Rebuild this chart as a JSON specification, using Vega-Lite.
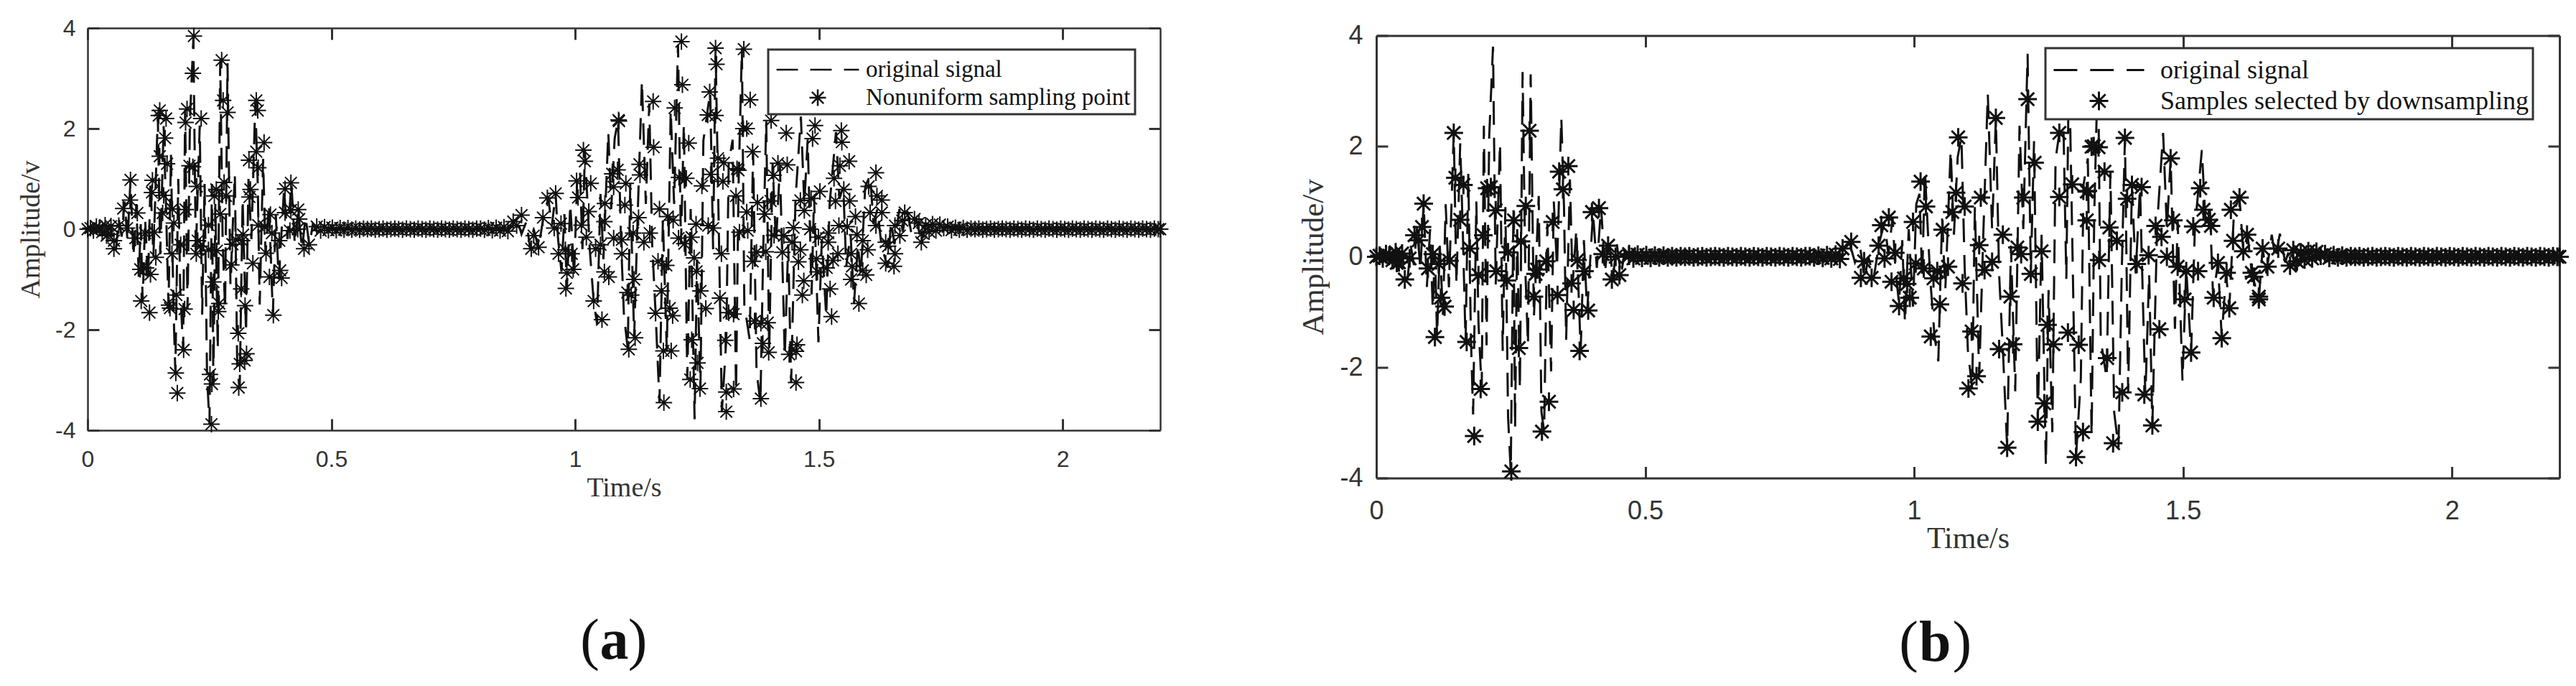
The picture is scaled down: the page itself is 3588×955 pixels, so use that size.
{
"$schema":"https://vega.github.io/schema/vega-lite/v6.json",
"description":"Original signal with nonuniform samples (a) and downsampled samples (b).",
"background":"white",
"padding":{"left":24,"top":23,"right":0,"bottom":0},
"spacing":176,
"config":{"view":{"stroke":null},"legend":{"strokeWidth":3},"axis":{"grid":false,"domainColor":"#333","tickColor":"#333","labelColor":"#333","titleColor":"#333","labelFont":"Liberation Sans","titleFont":"Liberation Serif","titleFontWeight":"normal"}},
"datasets":{
"signal":[{"t":0,"v":0},{"t":0.01,"v":0.05},{"t":0.02,"v":-0.06},{"t":0.03,"v":0.08},{"t":0.04,"v":-0.1},{"t":0.047,"v":0.1},{"t":0.052,"v":-0.2},{"t":0.058,"v":-0.42},{"t":0.064,"v":0.2},{"t":0.07,"v":-0.15},{"t":0.076,"v":0.55},{"t":0.082,"v":-0.25},{"t":0.088,"v":0.98},{"t":0.094,"v":-0.55},{"t":0.1,"v":0.5},{"t":0.105,"v":-0.95},{"t":0.109,"v":0.1},{"t":0.113,"v":-1.45},{"t":0.118,"v":0.2},{"t":0.124,"v":-1.05},{"t":0.129,"v":0.95},{"t":0.135,"v":-0.55},{"t":0.14,"v":1.0},{"t":0.144,"v":2.25},{"t":0.149,"v":-0.5},{"t":0.156,"v":2.05},{"t":0.161,"v":0.4},{"t":0.166,"v":-1.55},{"t":0.171,"v":1.5},{"t":0.176,"v":-1.5},{"t":0.18,"v":-2.85},{"t":0.186,"v":1.0},{"t":0.19,"v":-1.2},{"t":0.196,"v":-2.4},{"t":0.2,"v":2.37},{"t":0.205,"v":-1.6},{"t":0.21,"v":2.2},{"t":0.217,"v":3.8},{"t":0.222,"v":-0.5},{"t":0.23,"v":2.06},{"t":0.235,"v":-1.7},{"t":0.24,"v":0.9},{"t":0.245,"v":-2.9},{"t":0.25,"v":-3.88},{"t":0.255,"v":0.9},{"t":0.258,"v":-3.1},{"t":0.262,"v":0.5},{"t":0.267,"v":-2.4},{"t":0.272,"v":3.34},{"t":0.277,"v":-0.2},{"t":0.282,"v":-1.6},{"t":0.287,"v":3.3},{"t":0.293,"v":-1.1},{"t":0.302,"v":1.1},{"t":0.307,"v":-2.8},{"t":0.312,"v":-3.15},{"t":0.318,"v":0.6},{"t":0.325,"v":-2.07},{"t":0.33,"v":1.0},{"t":0.336,"v":-0.2},{"t":0.344,"v":2.52},{"t":0.349,"v":0.9},{"t":0.353,"v":-1.5},{"t":0.36,"v":1.4},{"t":0.365,"v":-0.5},{"t":0.372,"v":0.5},{"t":0.38,"v":-1.7},{"t":0.386,"v":0.3},{"t":0.392,"v":-1.0},{"t":0.403,"v":0.8},{"t":0.41,"v":-0.2},{"t":0.418,"v":0.92},{"t":0.425,"v":-0.3},{"t":0.432,"v":0.35},{"t":0.44,"v":-0.4},{"t":0.447,"v":0.25},{"t":0.455,"v":-0.33},{"t":0.462,"v":0.1},{"t":0.47,"v":-0.05},{"t":0.49,"v":0.02},{"t":0.86,"v":0},{"t":0.87,"v":0.05},{"t":0.88,"v":0.25},{"t":0.89,"v":-0.1},{"t":0.9,"v":0.15},{"t":0.908,"v":-0.4},{"t":0.915,"v":0},{"t":0.925,"v":-0.38},{"t":0.935,"v":0.25},{"t":0.945,"v":0.62},{"t":0.952,"v":0.05},{"t":0.96,"v":0.7},{"t":0.965,"v":-0.2},{"t":0.972,"v":-0.85},{"t":0.978,"v":0.3},{"t":0.983,"v":-1.2},{"t":0.99,"v":0.5},{"t":0.998,"v":-0.9},{"t":1.004,"v":0.95},{"t":1.01,"v":1.14},{"t":1.015,"v":-0.4},{"t":1.02,"v":1.57},{"t":1.03,"v":-0.4},{"t":1.038,"v":-1.44},{"t":1.045,"v":-1.89},{"t":1.052,"v":0.7},{"t":1.058,"v":-0.6},{"t":1.068,"v":1.93},{"t":1.074,"v":0.4},{"t":1.081,"v":1.8},{"t":1.088,"v":2.17},{"t":1.094,"v":-0.2},{"t":1.1,"v":-1.69},{"t":1.108,"v":-2.39},{"t":1.113,"v":0.9},{"t":1.121,"v":-2.16},{"t":1.128,"v":0.2},{"t":1.137,"v":2.95},{"t":1.145,"v":0.5},{"t":1.152,"v":2.5},{"t":1.158,"v":-0.3},{"t":1.165,"v":-1.67},{"t":1.173,"v":-3.45},{"t":1.18,"v":0.2},{"t":1.188,"v":-2.43},{"t":1.196,"v":2.37},{"t":1.203,"v":0.5},{"t":1.211,"v":3.67},{"t":1.217,"v":-0.3},{"t":1.223,"v":2.09},{"t":1.23,"v":-2.98},{"t":1.237,"v":0.4},{"t":1.245,"v":-3.78},{"t":1.25,"v":-0.6},{"t":1.257,"v":-3.17},{"t":1.263,"v":1.76},{"t":1.27,"v":2.24},{"t":1.277,"v":2.73},{"t":1.283,"v":-0.4},{"t":1.288,"v":3.6},{"t":1.295,"v":-0.2},{"t":1.301,"v":-3.62},{"t":1.31,"v":-2.2},{"t":1.315,"v":1.3},{"t":1.323,"v":1.78},{"t":1.33,"v":-3.24},{"t":1.335,"v":0.8},{"t":1.342,"v":3.6},{"t":1.347,"v":-1.5},{"t":1.358,"v":-2.2},{"t":1.365,"v":1.54},{"t":1.372,"v":-2.81},{"t":1.38,"v":-3.45},{"t":1.386,"v":-0.3},{"t":1.392,"v":2.15},{"t":1.398,"v":-2.45},{"t":1.405,"v":1.3},{"t":1.412,"v":-0.3},{"t":1.42,"v":1.26},{"t":1.43,"v":-2.53},{"t":1.437,"v":-0.3},{"t":1.443,"v":-3.05},{"t":1.452,"v":0.6},{"t":1.463,"v":2.24},{"t":1.47,"v":0.5},{"t":1.477,"v":1.78},{"t":1.485,"v":-1.3},{"t":1.49,"v":0.66},{"t":1.499,"v":-2.25},{"t":1.506,"v":-0.2},{"t":1.515,"v":-1.74},{"t":1.522,"v":0.5},{"t":1.535,"v":1.93},{"t":1.542,"v":0.6},{"t":1.55,"v":0.85},{"t":1.556,"v":-0.74},{"t":1.565,"v":-0.1},{"t":1.572,"v":-1.47},{"t":1.58,"v":-0.3},{"t":1.586,"v":-0.93},{"t":1.595,"v":0.85},{"t":1.605,"v":1.07},{"t":1.612,"v":0.1},{"t":1.62,"v":0.4},{"t":1.628,"v":-0.3},{"t":1.641,"v":-0.77},{"t":1.648,"v":0.15},{"t":1.655,"v":-0.3},{"t":1.665,"v":0.4},{"t":1.672,"v":-0.05},{"t":1.68,"v":0.42},{"t":1.69,"v":-0.1},{"t":1.7,"v":0.2},{"t":1.71,"v":-0.26},{"t":1.72,"v":0.1},{"t":1.74,"v":-0.03},{"t":1.76,"v":0.05},{"t":2.2,"v":0}],
"quiet":[{"t":0,"v":0},{"t":0.006,"v":0.02},{"t":0.012,"v":-0.03},{"t":0.018,"v":0.05},{"t":0.024,"v":0.02},{"t":0.03,"v":-0.06},{"t":0.036,"v":0.08},{"t":0.042,"v":-0.1},{"t":0.048,"v":0.06},{"t":0.47,"v":0.05},{"t":0.478,"v":-0.03},{"t":0.486,"v":0.04},{"t":0.494,"v":-0.02},{"t":0.502,"v":0.03},{"t":0.51,"v":-0.02},{"t":0.518,"v":0.02},{"t":0.526,"v":-0.01},{"t":0.534,"v":0.02},{"t":0.542,"v":-0.01},{"t":0.55,"v":0.01},{"t":0.558,"v":-0.01},{"t":0.566,"v":0.01},{"t":0.574,"v":0},{"t":0.582,"v":0.01},{"t":0.59,"v":-0.01},{"t":0.598,"v":0},{"t":0.606,"v":0.01},{"t":0.614,"v":-0.01},{"t":0.622,"v":0},{"t":0.63,"v":0.01},{"t":0.638,"v":0},{"t":0.646,"v":-0.01},{"t":0.654,"v":0.01},{"t":0.662,"v":0},{"t":0.67,"v":-0.01},{"t":0.678,"v":0.01},{"t":0.686,"v":0},{"t":0.694,"v":-0.01},{"t":0.702,"v":0.01},{"t":0.71,"v":0},{"t":0.718,"v":-0.01},{"t":0.726,"v":0.01},{"t":0.734,"v":0},{"t":0.742,"v":-0.01},{"t":0.75,"v":0.01},{"t":0.758,"v":0},{"t":0.766,"v":-0.01},{"t":0.774,"v":0.01},{"t":0.782,"v":0},{"t":0.79,"v":-0.01},{"t":0.798,"v":0.01},{"t":0.806,"v":0.01},{"t":0.814,"v":-0.01},{"t":0.822,"v":0.02},{"t":0.83,"v":-0.02},{"t":0.838,"v":0.03},{"t":0.846,"v":-0.03},{"t":0.854,"v":0.04},{"t":0.862,"v":-0.04},{"t":1.705,"v":0.12},{"t":1.712,"v":-0.08},{"t":1.719,"v":0.08},{"t":1.726,"v":-0.05},{"t":1.733,"v":0.1},{"t":1.74,"v":-0.03},{"t":1.748,"v":0.09},{"t":1.756,"v":0.02},{"t":1.764,"v":0.05},{"t":1.772,"v":-0.02},{"t":1.78,"v":0.03},{"t":1.788,"v":-0.01},{"t":1.796,"v":0.02},{"t":1.804,"v":-0.01},{"t":1.812,"v":0.01},{"t":1.82,"v":0},{"t":1.828,"v":0.01},{"t":1.836,"v":-0.01},{"t":1.844,"v":0},{"t":1.852,"v":0.01},{"t":1.86,"v":-0.01},{"t":1.868,"v":0},{"t":1.876,"v":0.01},{"t":1.884,"v":0},{"t":1.892,"v":-0.01},{"t":1.9,"v":0.01},{"t":1.908,"v":0},{"t":1.916,"v":-0.01},{"t":1.924,"v":0.01},{"t":1.932,"v":0},{"t":1.94,"v":-0.01},{"t":1.948,"v":0.01},{"t":1.956,"v":0},{"t":1.964,"v":-0.01},{"t":1.972,"v":0.01},{"t":1.98,"v":0},{"t":1.988,"v":-0.01},{"t":1.996,"v":0.01},{"t":2.004,"v":0},{"t":2.012,"v":-0.01},{"t":2.02,"v":0.01},{"t":2.028,"v":0},{"t":2.036,"v":-0.01},{"t":2.044,"v":0.01},{"t":2.052,"v":0},{"t":2.06,"v":-0.01},{"t":2.068,"v":0.01},{"t":2.076,"v":0},{"t":2.084,"v":-0.01},{"t":2.092,"v":0.01},{"t":2.1,"v":0},{"t":2.108,"v":-0.01},{"t":2.116,"v":0.01},{"t":2.124,"v":0},{"t":2.132,"v":-0.01},{"t":2.14,"v":0.01},{"t":2.148,"v":0},{"t":2.156,"v":-0.01},{"t":2.164,"v":0.01},{"t":2.172,"v":0},{"t":2.18,"v":-0.01},{"t":2.188,"v":0.01},{"t":2.196,"v":0},{"t":2.2,"v":0}],
"nonuniform":[{"t":0.218,"v":3.84},{"t":0.216,"v":3.1},{"t":0.275,"v":3.36},{"t":0.278,"v":2.56},{"t":0.287,"v":2.32},{"t":0.346,"v":2.56},{"t":0.349,"v":2.36},{"t":0.148,"v":2.36},{"t":0.146,"v":2.26},{"t":0.161,"v":2.2},{"t":0.204,"v":2.39},{"t":0.201,"v":2.12},{"t":0.233,"v":2.2},{"t":0.159,"v":1.81},{"t":0.362,"v":1.72},{"t":0.346,"v":1.54},{"t":0.148,"v":1.45},{"t":0.163,"v":1.3},{"t":0.331,"v":1.37},{"t":0.35,"v":1.22},{"t":0.209,"v":1.26},{"t":0.216,"v":1.24},{"t":0.088,"v":0.98},{"t":0.133,"v":0.97},{"t":0.132,"v":0.73},{"t":0.224,"v":0.85},{"t":0.28,"v":0.93},{"t":0.264,"v":0.79},{"t":0.26,"v":0.66},{"t":0.284,"v":0.66},{"t":0.334,"v":0.79},{"t":0.332,"v":0.64},{"t":0.417,"v":0.92},{"t":0.405,"v":0.8},{"t":0.156,"v":0.67},{"t":0.087,"v":0.58},{"t":0.073,"v":0.41},{"t":0.102,"v":0.32},{"t":0.201,"v":0.39},{"t":0.174,"v":0.4},{"t":0.154,"v":0.32},{"t":0.272,"v":0.3},{"t":0.375,"v":0.29},{"t":0.405,"v":0.33},{"t":0.432,"v":0.39},{"t":0.417,"v":0.38},{"t":0.434,"v":0.2},{"t":0.248,"v":0.08},{"t":0.177,"v":0.12},{"t":0.35,"v":0.08},{"t":0.363,"v":0.05},{"t":0.319,"v":-0.11},{"t":0.304,"v":-0.21},{"t":0.297,"v":-0.3},{"t":0.317,"v":-0.23},{"t":0.378,"v":-0.08},{"t":0.393,"v":-0.23},{"t":0.415,"v":-0.03},{"t":0.431,"v":0},{"t":0.137,"v":-0.06},{"t":0.118,"v":-0.08},{"t":0.098,"v":-0.18},{"t":0.081,"v":0.02},{"t":0.064,"v":0.07},{"t":0.054,"v":-0.23},{"t":0.054,"v":-0.39},{"t":0.039,"v":-0.13},{"t":0.191,"v":-0.31},{"t":0.173,"v":-0.49},{"t":0.226,"v":-0.23},{"t":0.231,"v":-0.34},{"t":0.223,"v":-0.49},{"t":0.248,"v":-0.41},{"t":0.265,"v":-0.43},{"t":0.14,"v":-0.56},{"t":0.366,"v":-0.48},{"t":0.444,"v":-0.39},{"t":0.454,"v":-0.31},{"t":0.295,"v":-0.71},{"t":0.339,"v":-0.68},{"t":0.108,"v":-0.8},{"t":0.12,"v":-0.77},{"t":0.129,"v":-0.9},{"t":0.395,"v":-0.82},{"t":0.373,"v":-0.95},{"t":0.398,"v":-0.97},{"t":0.258,"v":-1.05},{"t":0.315,"v":-1.19},{"t":0.182,"v":-1.31},{"t":0.167,"v":-1.51},{"t":0.169,"v":-1.57},{"t":0.199,"v":-1.59},{"t":0.11,"v":-1.43},{"t":0.127,"v":-1.66},{"t":0.27,"v":-1.48},{"t":0.268,"v":-1.64},{"t":0.323,"v":-1.52},{"t":0.381,"v":-1.71},{"t":0.309,"v":-2.07},{"t":0.197,"v":-2.4},{"t":0.326,"v":-2.48},{"t":0.322,"v":-2.61},{"t":0.312,"v":-2.68},{"t":0.181,"v":-2.86},{"t":0.251,"v":-2.89},{"t":0.255,"v":-3.08},{"t":0.31,"v":-3.15},{"t":0.184,"v":-3.26},{"t":0.254,"v":-3.88},{"t":1.218,"v":3.73},{"t":1.288,"v":3.6},{"t":1.29,"v":3.28},{"t":1.22,"v":2.87},{"t":1.16,"v":2.54},{"t":1.204,"v":2.41},{"t":1.276,"v":2.73},{"t":1.272,"v":2.27},{"t":1.288,"v":2.26},{"t":1.089,"v":2.17},{"t":1.09,"v":2.15},{"t":1.233,"v":1.71},{"t":1.161,"v":1.63},{"t":1.017,"v":1.57},{"t":1.02,"v":1.35},{"t":1.132,"v":1.29},{"t":1.293,"v":1.41},{"t":1.305,"v":1.32},{"t":1.335,"v":1.17},{"t":1.076,"v":1.1},{"t":1.087,"v":1.18},{"t":1.133,"v":1.08},{"t":1.213,"v":1.03},{"t":1.228,"v":1.01},{"t":1.278,"v":1.09},{"t":1.303,"v":0.95},{"t":1.003,"v":0.96},{"t":1.032,"v":0.91},{"t":1.104,"v":0.91},{"t":1.079,"v":0.84},{"t":1.26,"v":0.86},{"t":0.96,"v":0.71},{"t":0.943,"v":0.62},{"t":1.006,"v":0.63},{"t":1.061,"v":0.51},{"t":1.102,"v":0.48},{"t":1.33,"v":0.66},{"t":1.173,"v":0.4},{"t":1.028,"v":0.35},{"t":0.934,"v":0.23},{"t":0.971,"v":0.11},{"t":1.013,"v":0.08},{"t":1.06,"v":0.15},{"t":1.13,"v":0.23},{"t":1.19,"v":0.25},{"t":1.201,"v":0.18},{"t":1.248,"v":0.1},{"t":1.273,"v":0.07},{"t":1.283,"v":0.02},{"t":0.957,"v":0.02},{"t":0.89,"v":0.28},{"t":0.873,"v":0.15},{"t":0.88,"v":0.07},{"t":1.023,"v":-0.16},{"t":1.042,"v":-0.39},{"t":1.079,"v":-0.18},{"t":1.096,"v":-0.21},{"t":1.119,"v":-0.08},{"t":1.153,"v":-0.08},{"t":1.141,"v":-0.26},{"t":1.212,"v":-0.18},{"t":1.224,"v":-0.29},{"t":1.239,"v":-0.16},{"t":1.052,"v":-0.31},{"t":0.915,"v":-0.13},{"t":0.91,"v":-0.39},{"t":0.925,"v":-0.36},{"t":0.966,"v":-0.49},{"t":0.98,"v":-0.41},{"t":0.993,"v":-0.49},{"t":1.096,"v":-0.49},{"t":1.17,"v":-0.64},{"t":1.187,"v":-0.72},{"t":1.244,"v":-0.57},{"t":1.249,"v":-0.84},{"t":1.3,"v":-0.49},{"t":0.983,"v":-0.87},{"t":0.996,"v":-0.8},{"t":1.06,"v":-0.85},{"t":1.069,"v":-0.95},{"t":1.121,"v":-1},{"t":0.981,"v":-1.18},{"t":1.107,"v":-1.26},{"t":1.115,"v":-1.31},{"t":1.177,"v":-1.23},{"t":1.257,"v":-1.23},{"t":1.038,"v":-1.43},{"t":1.297,"v":-1.37},{"t":1.268,"v":-1.58},{"t":1.165,"v":-1.67},{"t":1.194,"v":-1.57},{"t":1.2,"v":-1.72},{"t":1.315,"v":-1.66},{"t":1.325,"v":-1.69},{"t":1.055,"v":-1.8},{"t":1.123,"v":-2.16},{"t":1.11,"v":-2.39},{"t":1.239,"v":-2.2},{"t":1.308,"v":-2.21},{"t":1.181,"v":-2.42},{"t":1.197,"v":-2.42},{"t":1.251,"v":-2.66},{"t":1.236,"v":-2.99},{"t":1.256,"v":-3.17},{"t":1.31,"v":-3.24},{"t":1.325,"v":-3.18},{"t":1.182,"v":-3.45},{"t":1.31,"v":-3.63},{"t":1.346,"v":3.58},{"t":1.359,"v":2.57},{"t":1.345,"v":2},{"t":1.352,"v":2},{"t":1.402,"v":2.16},{"t":1.433,"v":1.91},{"t":1.364,"v":1.54},{"t":1.332,"v":1.2},{"t":1.416,"v":1.31},{"t":1.435,"v":1.28},{"t":1.407,"v":1.07},{"t":1.492,"v":2.06},{"t":1.487,"v":1.8},{"t":1.546,"v":1.96},{"t":1.547,"v":1.73},{"t":1.562,"v":1.35},{"t":1.543,"v":1.26},{"t":1.531,"v":1.01},{"t":1.617,"v":1.12},{"t":1.602,"v":0.85},{"t":1.551,"v":0.79},{"t":1.502,"v":0.75},{"t":1.619,"v":0.66},{"t":1.629,"v":0.58},{"t":1.374,"v":0.53},{"t":1.401,"v":0.56},{"t":1.462,"v":0.57},{"t":1.484,"v":0.61},{"t":1.534,"v":0.56},{"t":1.563,"v":0.56},{"t":1.352,"v":0.34},{"t":1.389,"v":0.3},{"t":1.47,"v":0.37},{"t":1.575,"v":0.25},{"t":1.605,"v":0.33},{"t":1.629,"v":0.33},{"t":1.676,"v":0.33},{"t":1.448,"v":0.03},{"t":1.408,"v":-0.12},{"t":1.428,"v":-0.13},{"t":1.337,"v":-0.06},{"t":1.354,"v":-0.03},{"t":1.482,"v":0},{"t":1.519,"v":-0.08},{"t":1.541,"v":0.07},{"t":1.558,"v":0.05},{"t":1.499,"v":-0.16},{"t":1.519,"v":-0.26},{"t":1.578,"v":-0.11},{"t":1.617,"v":0.07},{"t":1.656,"v":0.07},{"t":1.671,"v":0.17},{"t":1.696,"v":0.2},{"t":1.666,"v":-0.13},{"t":1.637,"v":-0.26},{"t":1.71,"v":-0.26},{"t":1.59,"v":-0.23},{"t":1.6,"v":-0.41},{"t":1.372,"v":-0.46},{"t":1.391,"v":-0.45},{"t":1.425,"v":-0.46},{"t":1.445,"v":-0.26},{"t":1.462,"v":-0.41},{"t":1.364,"v":-0.64},{"t":1.458,"v":-0.65},{"t":1.495,"v":-0.59},{"t":1.529,"v":-0.62},{"t":1.539,"v":-0.49},{"t":1.566,"v":-0.49},{"t":1.642,"v":-0.34},{"t":1.656,"v":-0.49},{"t":1.568,"v":-0.74},{"t":1.516,"v":-0.77},{"t":1.497,"v":-0.85},{"t":1.637,"v":-0.68},{"t":1.654,"v":-0.74},{"t":1.59,"v":-0.82},{"t":1.597,"v":-0.91},{"t":1.566,"v":-1},{"t":1.469,"v":-1.03},{"t":1.466,"v":-1.31},{"t":1.523,"v":-1.19},{"t":1.582,"v":-1.48},{"t":1.526,"v":-1.74},{"t":1.368,"v":-1.83},{"t":1.381,"v":-1.87},{"t":1.395,"v":-1.86},{"t":1.385,"v":-2.27},{"t":1.397,"v":-2.45},{"t":1.455,"v":-2.3},{"t":1.439,"v":-2.49},{"t":1.453,"v":-2.43},{"t":1.453,"v":-3.05},{"t":1.381,"v":-3.37}],
"downsampled":[{"t":0.144,"v":2.24},{"t":0.285,"v":2.28},{"t":0.147,"v":1.43},{"t":0.162,"v":1.3},{"t":0.206,"v":1.24},{"t":0.213,"v":1.26},{"t":0.34,"v":1.54},{"t":0.357,"v":1.64},{"t":0.347,"v":1.22},{"t":0.088,"v":0.96},{"t":0.278,"v":0.92},{"t":0.222,"v":0.84},{"t":0.256,"v":0.66},{"t":0.328,"v":0.63},{"t":0.401,"v":0.81},{"t":0.414,"v":0.88},{"t":0.156,"v":0.67},{"t":0.085,"v":0.54},{"t":0.071,"v":0.39},{"t":0.079,"v":0.3},{"t":0.199,"v":0.39},{"t":0.269,"v":0.28},{"t":0.431,"v":0.2},{"t":0.245,"v":0.08},{"t":0.174,"v":0.15},{"t":0.105,"v":0.05},{"t":0.062,"v":-0.03},{"t":0.136,"v":-0.07},{"t":0.316,"v":-0.08},{"t":0.374,"v":-0.06},{"t":0.421,"v":0.05},{"t":0.445,"v":0},{"t":0.47,"v":0.02},{"t":0.096,"v":-0.21},{"t":0.116,"v":-0.13},{"t":0.038,"v":-0.11},{"t":0.223,"v":-0.26},{"t":0.19,"v":-0.33},{"t":0.243,"v":-0.43},{"t":0.296,"v":-0.31},{"t":0.299,"v":-0.23},{"t":0.387,"v":-0.26},{"t":0.363,"v":-0.48},{"t":0.053,"v":-0.41},{"t":0.438,"v":-0.41},{"t":0.452,"v":-0.33},{"t":0.293,"v":-0.72},{"t":0.337,"v":-0.69},{"t":0.12,"v":-0.74},{"t":0.127,"v":-0.9},{"t":0.367,"v":-0.96},{"t":0.394,"v":-0.97},{"t":0.168,"v":-1.54},{"t":0.109,"v":-1.45},{"t":0.265,"v":-1.65},{"t":0.378,"v":-1.7},{"t":0.194,"v":-2.39},{"t":0.321,"v":-2.62},{"t":0.308,"v":-3.16},{"t":0.182,"v":-3.24},{"t":0.251,"v":-3.88},{"t":1.211,"v":2.85},{"t":1.152,"v":2.51},{"t":1.082,"v":2.16},{"t":1.224,"v":1.7},{"t":1.27,"v":2.24},{"t":1.33,"v":1.99},{"t":1.012,"v":1.36},{"t":1.022,"v":0.91},{"t":1.078,"v":1.16},{"t":1.124,"v":1.07},{"t":1.203,"v":1.07},{"t":1.27,"v":1.08},{"t":1.294,"v":1.31},{"t":1.321,"v":1.18},{"t":0.953,"v":0.71},{"t":0.939,"v":0.57},{"t":0.998,"v":0.63},{"t":1.094,"v":0.91},{"t":1.071,"v":0.81},{"t":1.053,"v":0.49},{"t":1.321,"v":0.66},{"t":1.165,"v":0.4},{"t":1.121,"v":0.21},{"t":1.192,"v":0.17},{"t":1.199,"v":0.05},{"t":1.237,"v":0.1},{"t":0.934,"v":0.2},{"t":0.883,"v":0.27},{"t":0.867,"v":0.15},{"t":0.965,"v":0.07},{"t":0.945,"v":-0.03},{"t":0.907,"v":-0.08},{"t":1.003,"v":-0.12},{"t":1.018,"v":-0.21},{"t":1.063,"v":-0.18},{"t":1.145,"v":-0.09},{"t":1.131,"v":-0.24},{"t":1.217,"v":-0.31},{"t":1.036,"v":-0.39},{"t":1.043,"v":-0.26},{"t":0.901,"v":-0.38},{"t":0.921,"v":-0.38},{"t":0.958,"v":-0.45},{"t":0.981,"v":-0.39},{"t":0.987,"v":-0.49},{"t":1.09,"v":-0.48},{"t":1.179,"v":-0.72},{"t":0.992,"v":-0.74},{"t":0.972,"v":-0.89},{"t":1.048,"v":-0.86},{"t":1.248,"v":-1.23},{"t":1.107,"v":-1.35},{"t":1.031,"v":-1.44},{"t":1.286,"v":-1.37},{"t":1.306,"v":-1.59},{"t":1.259,"v":-1.58},{"t":1.158,"v":-1.67},{"t":1.184,"v":-1.58},{"t":1.116,"v":-2.16},{"t":1.101,"v":-2.38},{"t":1.242,"v":-2.65},{"t":1.23,"v":-2.98},{"t":1.314,"v":-3.17},{"t":1.173,"v":-3.45},{"t":1.301,"v":-3.62},{"t":1.334,"v":2},{"t":1.343,"v":1.98},{"t":1.392,"v":2.15},{"t":1.477,"v":1.78},{"t":1.354,"v":1.54},{"t":1.323,"v":1.19},{"t":1.405,"v":1.3},{"t":1.423,"v":1.26},{"t":1.396,"v":1.05},{"t":1.532,"v":1.24},{"t":1.605,"v":1.07},{"t":1.589,"v":0.85},{"t":1.538,"v":0.85},{"t":1.449,"v":0.56},{"t":1.482,"v":0.66},{"t":1.548,"v":0.67},{"t":1.519,"v":0.55},{"t":1.552,"v":0.56},{"t":1.363,"v":0.53},{"t":1.377,"v":0.29},{"t":1.46,"v":0.36},{"t":1.619,"v":0.4},{"t":1.593,"v":0.29},{"t":1.648,"v":0.15},{"t":1.677,"v":0.15},{"t":1.612,"v":0.1},{"t":1.436,"v":0.03},{"t":1.414,"v":-0.13},{"t":1.344,"v":-0.06},{"t":1.47,"v":0},{"t":1.49,"v":-0.18},{"t":1.506,"v":-0.26},{"t":1.528,"v":-0.26},{"t":1.565,"v":-0.11},{"t":1.581,"v":-0.29},{"t":1.628,"v":-0.29},{"t":1.657,"v":-0.18},{"t":1.699,"v":-0.16},{"t":1.632,"v":-0.36},{"t":1.557,"v":-0.74},{"t":1.503,"v":-0.77},{"t":1.586,"v":-0.93},{"t":1.641,"v":-0.72},{"t":1.641,"v":-0.77},{"t":1.456,"v":-1.31},{"t":1.572,"v":-1.47},{"t":1.515,"v":-1.73},{"t":1.359,"v":-1.83},{"t":1.387,"v":-2.45},{"t":1.428,"v":-2.49},{"t":1.443,"v":-3.05},{"t":1.37,"v":-3.37}]
},
"hconcat":[
{"width":1494,"height":560,
"resolve":{"axis":{"x":"independent","y":"independent"}},
"layer":[
{"data":{"name":"signal"},"mark":{"type":"line","color":"#111","strokeWidth":3,"strokeDash":[30,17]},
"encoding":{
"x":{"field":"t","type":"quantitative","scale":{"domain":[0,2.2],"nice":false},"axis":{"orient":"bottom","title":"Time/s","titleFontSize":38,"titlePadding":5,"values":[0,0.5,1,1.5,2],"labelExpr":"datum.value + ''","labelFontSize":32,"labelPadding":41,"tickSize":-16,"tickWidth":3,"domainWidth":2.5,"labelFlush":false}},
"y":{"field":"v","type":"quantitative","scale":{"domain":[-4,4],"nice":false},"axis":{"orient":"left","title":"Amplitude/v","titleFontSize":38,"titlePadding":14,"values":[-4,-2,0,2,4],"labelExpr":"datum.value + ''","labelFontSize":32,"labelPadding":33,"tickSize":-16,"tickWidth":3,"domainWidth":2.5}}}},
{"data":{"name":"quiet"},"mark":{"type":"point","shape":"M-0.56,0L0.56,0M0,-0.56L0,0.56M-0.4,-0.4L0.4,0.4M-0.4,0.4L0.4,-0.4","size":1681,"filled":false,"color":"#111","strokeWidth":2,"opacity":1},
"encoding":{
"x":{"field":"t","type":"quantitative","axis":{"orient":"top","title":null,"labels":false,"values":[0,0.5,1,1.5,2],"tickSize":-16,"tickWidth":3,"domainWidth":2.5}},
"y":{"field":"v","type":"quantitative","axis":{"orient":"right","title":null,"labels":false,"values":[-4,-2,0,2,4],"tickSize":-16,"tickWidth":3,"domainWidth":2.5}}}},
{"data":{"name":"nonuniform"},"mark":{"type":"point","size":1681,"filled":false,"color":"#111","strokeWidth":2,"opacity":1},
"encoding":{
"x":{"field":"t","type":"quantitative","axis":null},
"y":{"field":"v","type":"quantitative","axis":null},
"shape":{"datum":"Nonuniform sampling point","scale":{"domain":["original signal","Nonuniform sampling point"],"range":["M-2.8,0L-1.34,0M-0.51,0L0.95,0M1.78,0L2.8,0","M-0.56,0L0.56,0M0,-0.56L0,0.56M-0.4,-0.4L0.4,0.4M-0.4,0.4L0.4,-0.4"]},
"legend":{"title":null,"orient":"none","legendX":948,"legendY":30,"fillColor":"white","strokeColor":"#333","padding":6,"symbolSize":1681,"symbolOffset":41,"symbolStrokeWidth":2.5,"symbolStrokeColor":"#111","symbolFillColor":"transparent","symbolOpacity":1,"labelFont":"Liberation Serif","labelFontSize":33,"labelColor":"#111","labelOffset":45,"rowPadding":0,"labelLimit":500}}}},
{"data":{"values":[{"t":1.03,"v":-8.54,"part":"("},{"t":1.128,"v":-8.54,"part":")"}]},"mark":{"type":"text","font":"Liberation Serif","fontSize":80,"color":"#111","baseline":"alphabetic"},
"encoding":{"x":{"field":"t","type":"quantitative","axis":null},"y":{"field":"v","type":"quantitative","axis":null},"text":{"field":"part"}}},
{"data":{"values":[{"t":1.08,"v":-8.54,"part":"a"}]},"mark":{"type":"text","font":"Liberation Serif","fontSize":80,"fontWeight":"bold","color":"#111","baseline":"alphabetic"},
"encoding":{"x":{"field":"t","type":"quantitative","axis":null},"y":{"field":"v","type":"quantitative","axis":null},"text":{"field":"part"}}}
]},
{"spacing":-11.5,"vconcat":[
{"width":1,"height":1,"data":{"values":[{"t":0}]},"mark":{"type":"point","opacity":0},"encoding":{}},
{"width":1648,"height":616,
"resolve":{"axis":{"x":"independent","y":"independent"}},
"layer":[
{"data":{"name":"signal"},"mark":{"type":"line","color":"#111","strokeWidth":3,"strokeDash":[33,18]},
"encoding":{
"x":{"field":"t","type":"quantitative","scale":{"domain":[0,2.2],"nice":false},"axis":{"orient":"bottom","title":"Time/s","titleFontSize":42,"titlePadding":0,"values":[0,0.5,1,1.5,2],"labelExpr":"datum.value + ''","labelFontSize":36,"labelPadding":45,"tickSize":-16,"tickWidth":3,"domainWidth":3,"labelFlush":false}},
"y":{"field":"v","type":"quantitative","scale":{"domain":[-4,4],"nice":false},"axis":{"orient":"left","title":"Amplitude/v","titleFontSize":43,"titlePadding":14,"values":[-4,-2,0,2,4],"labelExpr":"datum.value + ''","labelFontSize":36,"labelPadding":35,"tickSize":-16,"tickWidth":3,"domainWidth":3}}}},
{"data":{"name":"quiet"},"mark":{"type":"point","shape":"M-0.565,0L0.565,0M0,-0.565L0,0.565M-0.4,-0.4L0.4,0.4M-0.4,0.4L0.4,-0.4","size":2116,"filled":false,"color":"#111","strokeWidth":3,"opacity":1},
"encoding":{
"x":{"field":"t","type":"quantitative","axis":{"orient":"top","title":null,"labels":false,"values":[0,0.5,1,1.5,2],"tickSize":-16,"tickWidth":3,"domainWidth":3}},
"y":{"field":"v","type":"quantitative","axis":{"orient":"right","title":null,"labels":false,"values":[-4,-2,0,2,4],"tickSize":-16,"tickWidth":3,"domainWidth":3}}}},
{"data":{"name":"downsampled"},"mark":{"type":"point","size":2116,"filled":false,"color":"#111","strokeWidth":3,"opacity":1},
"encoding":{
"x":{"field":"t","type":"quantitative","axis":null},
"y":{"field":"v","type":"quantitative","axis":null},
"shape":{"datum":"Samples selected by downsampling","scale":{"domain":["original signal","Samples selected by downsampling"],"range":["M-2.74,0L-1.31,0M-0.53,0L0.9,0M1.68,0L2.74,0","M-0.565,0L0.565,0M0,-0.565L0,0.565M-0.4,-0.4L0.4,0.4M-0.4,0.4L0.4,-0.4"]},
"legend":{"title":null,"orient":"none","legendX":932,"legendY":28,"fillColor":"white","strokeColor":"#333","padding":6,"symbolSize":2116,"symbolOffset":44,"symbolStrokeWidth":3,"symbolStrokeColor":"#111","symbolFillColor":"transparent","symbolOpacity":1,"labelFont":"Liberation Serif","labelFontSize":36,"labelColor":"#111","labelOffset":61,"rowPadding":0,"labelLimit":600}}}},
{"data":{"values":[{"t":0.99,"v":-7.3,"part":"("},{"t":1.089,"v":-7.3,"part":")"}]},"mark":{"type":"text","font":"Liberation Serif","fontSize":80,"color":"#111","baseline":"alphabetic"},
"encoding":{"x":{"field":"t","type":"quantitative","axis":null},"y":{"field":"v","type":"quantitative","axis":null},"text":{"field":"part"}}},
{"data":{"values":[{"t":1.039,"v":-7.3,"part":"b"}]},"mark":{"type":"text","font":"Liberation Serif","fontSize":80,"fontWeight":"bold","color":"#111","baseline":"alphabetic"},
"encoding":{"x":{"field":"t","type":"quantitative","axis":null},"y":{"field":"v","type":"quantitative","axis":null},"text":{"field":"part"}}}
]}
]}
],
"resolve":{"scale":{"shape":"independent"},"legend":{"shape":"independent"}}
}
